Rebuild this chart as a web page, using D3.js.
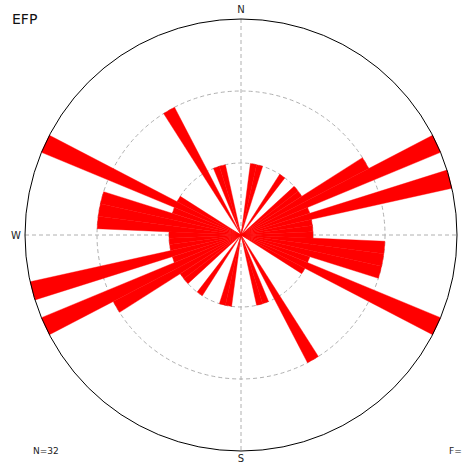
<!DOCTYPE html>
<html>
<head>
<meta charset="utf-8">
<script src="https://cdn.jsdelivr.net/npm/d3@7"></script>
<style>
  html, body { margin: 0; padding: 0; background: #fff; }
  svg { display: block; font-family: "DejaVu Sans", sans-serif; }
</style>
</head>
<body>
<svg id="chart" width="462" height="464"></svg>
<script>
// Strike directions, 5-degree bins (bin centre in degrees, 0-180)
const binCenters = [10, 15, 35, 50, 55, 60, 65, 70, 75, 80, 85, 90, 95, 100, 105, 110, 115, 120, 150, 160, 165];
const binCounts  = [ 1,  1,  1,  1,  1,  2,  3,  1,  3,  1,  1,  1,  2,   2,   2,   1,   3,   1,   2,   1,   1];
const binWidth = 5;
const radialTicks = [1, 2, 3];
const compassLabels = ["N", "S", "W"];
const title = "EFP";
const total = d3.sum(binCounts);

const svg = d3.select("#chart");
const cx = 241, cy = 235, R = 216;

const r = d3.scaleLinear().domain([0, d3.max(radialTicks)]).range([0, R]);
const rad = d => d * Math.PI / 180;

const g = svg.append("g").attr("transform", `translate(${cx},${cy})`);

// grid: cross hair and inner rings
const gridColor = "#b0b0b0";
g.append("line").attr("x1", 0).attr("x2", 0).attr("y1", -R).attr("y2", R)
  .attr("stroke", gridColor).attr("stroke-width", 1).attr("stroke-dasharray", "4,3");
g.append("line").attr("x1", -R).attr("x2", R).attr("y1", 0).attr("y2", 0)
  .attr("stroke", gridColor).attr("stroke-width", 1).attr("stroke-dasharray", "4,3");
g.selectAll("circle.ring").data(radialTicks.slice(0, -1)).join("circle")
  .attr("class", "ring").attr("r", d => r(d))
  .attr("fill", "none").attr("stroke", gridColor).attr("stroke-width", 1)
  .attr("stroke-dasharray", "4,3");

// bidirectional petals: each bin is drawn at its bearing and the opposite one
const petals = [];
binCenters.forEach((c, i) => {
  petals.push({ center: c, count: binCounts[i] });
  petals.push({ center: c + 180, count: binCounts[i] });
});
const arc = d3.arc()
  .innerRadius(0)
  .outerRadius(d => r(d.count))
  .startAngle(d => rad(d.center - binWidth / 2))
  .endAngle(d => rad(d.center + binWidth / 2));
g.selectAll("path.petal").data(petals).join("path")
  .attr("class", "petal").attr("d", arc)
  .attr("fill", "#ff0000").attr("stroke", "#ff0000").attr("stroke-width", 0.4)
  .attr("stroke-linejoin", "miter");

// outer frame
g.append("circle").attr("r", R).attr("fill", "none").attr("stroke", "#000").attr("stroke-width", 1);

// compass labels
const labelPos = {
  N: { x: 0, y: -R - 6, anchor: "middle" },
  S: { x: 0, y: R + 11, anchor: "middle" },
  W: { x: -R - 4, y: 4, anchor: "end" }
};
compassLabels.forEach(l => {
  const p = labelPos[l];
  g.append("text").attr("x", p.x).attr("y", p.y).attr("text-anchor", p.anchor)
    .attr("font-size", 10).attr("fill", "#222").text(l);
});

// title and footer
svg.append("text").attr("x", 12).attr("y", 24).attr("font-size", 14).attr("fill", "#111").text(title);
svg.append("text").attr("x", 33).attr("y", 454).attr("font-size", 9).attr("fill", "#222").text(`N=${total}`);
svg.append("text").attr("x", 449).attr("y", 454).attr("font-size", 9).attr("fill", "#222").text("F=");
</script>
</body>
</html>
